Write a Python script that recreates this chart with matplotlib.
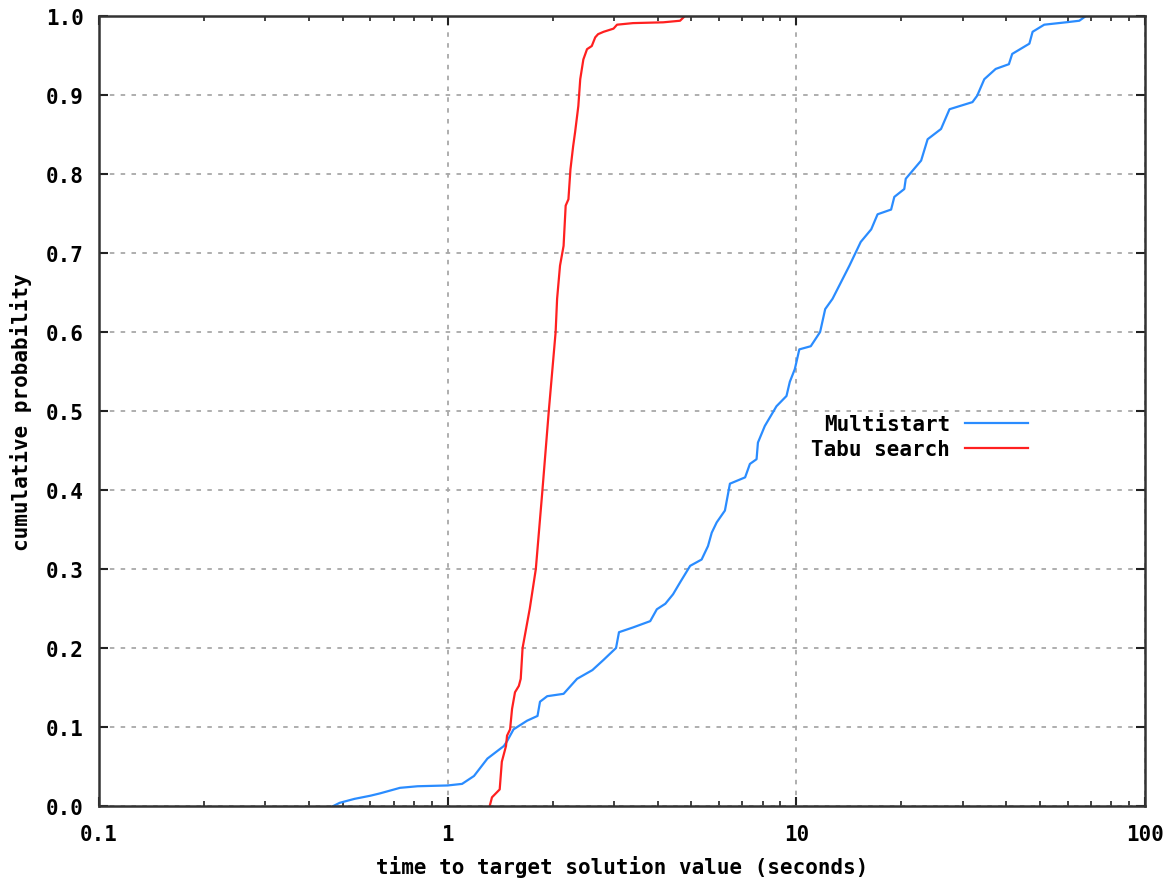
import numpy as np
import matplotlib
matplotlib.use("Agg")
import matplotlib.pyplot as plt
from matplotlib.ticker import FixedLocator, LogLocator, NullFormatter

# empirical time-to-target distributions
multistart_t = [0.47, 0.49, 0.54, 0.60, 0.64, 0.73, 0.82, 1.00, 1.10, 1.19, 1.30, 1.45,
                1.48, 1.545, 1.69, 1.81, 1.84, 1.93, 2.15, 2.35, 2.60, 2.80, 3.04, 3.10,
                3.40, 3.81, 3.98, 4.21, 4.43, 4.64, 4.96, 5.35, 5.58, 5.72, 5.91, 6.24,
                6.45, 7.13, 7.36, 7.69, 7.76, 8.12, 8.77, 9.37, 9.58, 9.90, 10.2, 11.0,
                11.7, 12.1, 12.7, 14.2, 15.3, 16.4, 17.1, 18.7, 19.1, 20.4, 20.6, 22.8,
                23.8, 26.0, 27.5, 32.0, 33.0, 34.6, 37.3, 40.7, 41.6, 46.6, 47.6, 51.4,
                59.3, 64.8, 67.7]
multistart_p = [0.0, 0.004, 0.009, 0.013, 0.016, 0.023, 0.025, 0.026, 0.028, 0.038, 0.06, 0.076,
                0.082, 0.097, 0.108, 0.114, 0.132, 0.139, 0.142, 0.161, 0.172, 0.185, 0.20, 0.22,
                0.226, 0.234, 0.249, 0.256, 0.268, 0.283, 0.304, 0.312, 0.329, 0.346, 0.359, 0.374,
                0.408, 0.416, 0.433, 0.439, 0.46, 0.481, 0.506, 0.519, 0.537, 0.553, 0.578, 0.582,
                0.60, 0.629, 0.642, 0.684, 0.714, 0.730, 0.749, 0.755, 0.771, 0.781, 0.794, 0.817,
                0.844, 0.857, 0.882, 0.891, 0.899, 0.920, 0.933, 0.939, 0.952, 0.965, 0.980, 0.989,
                0.992, 0.994, 1.0]

tabu_t = [1.32, 1.34, 1.41, 1.43, 1.47, 1.48, 1.51, 1.53, 1.56, 1.60, 1.62, 1.64, 1.72,
          1.79, 1.87, 1.95, 2.04, 2.06, 2.10, 2.15, 2.18, 2.22, 2.25, 2.29, 2.32, 2.37,
          2.40, 2.45, 2.51, 2.59, 2.65, 2.70, 2.80, 2.99, 3.06, 3.40, 4.15, 4.64, 4.79]
tabu_p = [0.0, 0.011, 0.021, 0.056, 0.076, 0.089, 0.097, 0.123, 0.144, 0.152, 0.161, 0.20, 0.25,
          0.30, 0.40, 0.50, 0.60, 0.642, 0.684, 0.709, 0.760, 0.768, 0.806, 0.835, 0.853, 0.886,
          0.920, 0.945, 0.958, 0.962, 0.973, 0.977, 0.980, 0.984, 0.989, 0.991, 0.992, 0.994, 1.0]

x_ticks = [0.1, 1, 10, 100]
x_ticklabels = ["0.1", "1", "10", "100"]
y_ticks = [0.0, 0.1, 0.2, 0.3, 0.4, 0.5, 0.6, 0.7, 0.8, 0.9, 1.0]

font = dict(family="DejaVu Sans Mono", weight="bold", size=15)

fig = plt.figure(figsize=(11.71, 8.79), dpi=100)
ax = fig.add_axes([99 / 1171, 1 - 807 / 879, 1046 / 1171, 790 / 879])

ax.plot(multistart_t, multistart_p, color="#2a8cff", lw=1.6, label="Multistart")
ax.plot(tabu_t, tabu_p, color="#ff2020", lw=1.6, label="Tabu search")

ax.set_xscale("log")
ax.set_xlim(0.1, 100)
ax.set_ylim(0, 1)
ax.xaxis.set_major_locator(FixedLocator(x_ticks))
ax.set_xticklabels(x_ticklabels, fontdict=font)
ax.xaxis.set_minor_locator(LogLocator(base=10, subs=np.arange(2, 10)))
ax.xaxis.set_minor_formatter(NullFormatter())
ax.set_yticks(y_ticks)
ax.set_yticklabels(["%.1f" % v for v in y_ticks], fontdict=font)

ax.tick_params(which="major", direction="in", length=6.5, width=1.5, color="#222222",
               top=True, right=True)
ax.tick_params(axis="x", which="major", pad=13)
ax.tick_params(axis="y", which="major", pad=11)
ax.tick_params(which="minor", direction="in", length=3.5, width=1.2, color="#222222",
               top=True)

ax.grid(True, which="major", color="#a8a8a8", lw=1.3, linestyle=(0, (2.5, 3.5)))
for s in ax.spines.values():
    s.set_linewidth(1.8)
    s.set_color("#333333")

ax.set_xlabel("time to target solution value (seconds)", fontdict=font, labelpad=8)
ax.set_ylabel("cumulative probability", fontdict=font, labelpad=10)

leg = ax.legend(loc="upper right", bbox_to_anchor=(0.888, 0.496), frameon=False,
                markerfirst=False, prop=font, handlelength=3.0, handletextpad=0.72,
                borderpad=0, borderaxespad=0, labelspacing=0.25)
for t in leg.get_texts():
    t.set_ha("right")

fig.savefig("out.png", dpi=100, facecolor="white")
